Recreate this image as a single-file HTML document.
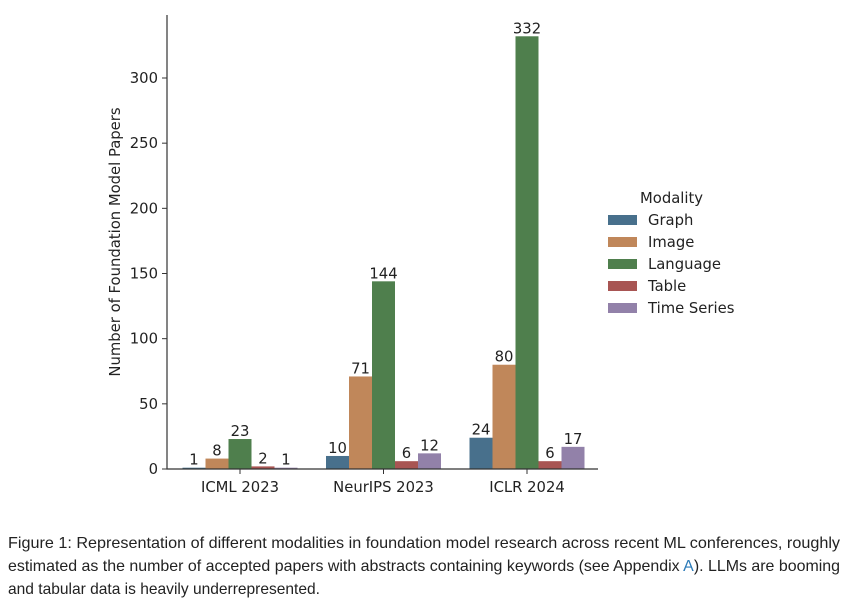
<!DOCTYPE html>
<html><head><meta charset="utf-8"><style>
body{margin:0;background:#fff;width:848px;height:606px;overflow:hidden}
svg{display:block;font-family:"DejaVu Sans","Liberation Sans",sans-serif}
</style></head><body>
<svg id="chart" width="848" height="606" viewBox="0 0 848 606">
<g id="plot"></g>
<text transform="translate(120,242) rotate(-90)" text-anchor="middle" font-size="14.8" fill="#222">Number of Foundation Model Papers</text>
<g id="legend">
<text x="640" y="203" font-size="14.8" fill="#222">Modality</text>
</g>
<g font-family="'Liberation Sans',sans-serif" font-size="16" fill="#222">
<text x="8" y="548" textLength="832" lengthAdjust="spacingAndGlyphs">Figure 1: Representation of different modalities in foundation model research across recent ML conferences, roughly</text>
<text x="8" y="571" textLength="832" lengthAdjust="spacingAndGlyphs">estimated as the number of accepted papers with abstracts containing keywords (see Appendix <tspan fill="#2a7ab8">A</tspan>). LLMs are booming</text>
<text x="8" y="594" textLength="312" lengthAdjust="spacingAndGlyphs">and tabular data is heavily underrepresented.</text>
</g>
</svg>
<script>
const categories = ["ICML 2023","NeurIPS 2023","ICLR 2024"];
const seriesNames = ["Graph","Image","Language","Table","Time Series"];
const graphVals = [1,10,24];
const imageVals = [8,71,80];
const languageVals = [23,144,332];
const tableVals = [2,6,6];
const timeSeriesVals = [1,12,17];
const yTicks = [0,50,100,150,200,250,300];

const series=[graphVals,imageVals,languageVals,tableVals,timeSeriesVals];
const colors=["#48708c","#c0875a","#4f7f4d","#a85553","#9281a9"];
const NS="http://www.w3.org/2000/svg";
const FS=14.8;
const x0=167,x1=598,yTop=15,yZero=469,pxPer=(469-78)/300;
const groupW=143.5,barW=23;
function y(v){return yZero-v*pxPer}
function gx(i){return 240+i*groupW}
function mk(t,a,p){const e=document.createElementNS(NS,t);for(const k in a)e.setAttribute(k,a[k]);(p||plot).appendChild(e);return e}
const plot=document.getElementById('plot');
series.forEach((vals,s)=>{vals.forEach((v,i)=>{
 const bx=gx(i)+(s-2)*barW-barW/2;
 const r=mk('rect',{x:bx,y:y(v),width:barW,height:yZero-y(v),fill:colors[s]});
 
 
 const t=mk('text',{x:bx+barW/2,y:y(v)-3,'text-anchor':'middle','font-size':FS,fill:'#222'});
 t.textContent=v;
 
 
});});
const ax=mk('path',{d:`M${x0},${yTop}V${yZero}H${x1}`,stroke:'#333','stroke-width':1.2,fill:'none'});


yTicks.forEach(v=>{
 mk('line',{x1:x0-5,x2:x0,y1:y(v),y2:y(v),stroke:'#333'});
 const t=mk('text',{x:x0-9,y:y(v)+5,'text-anchor':'end','font-size':FS,fill:'#222'});
 t.textContent=v;
 
 
});
categories.forEach((c,i)=>{
 mk('line',{x1:gx(i),x2:gx(i),y1:yZero,y2:yZero+5,stroke:'#333'});
 const t=mk('text',{x:gx(i),y:yZero+23,'text-anchor':'middle','font-size':FS,fill:'#222'});
 t.textContent=c;
 
 
});
const lg=document.getElementById('legend');
seriesNames.forEach((n,s)=>{
 const yy=220+s*22;
 const r=mk('rect',{x:608,y:yy-5,width:29,height:10,fill:colors[s]},lg);
 
 
 const t=mk('text',{x:648,y:yy+5,'font-size':FS,fill:'#222'},lg);
 t.textContent=n;
 
 
});
</script>
</body></html>
